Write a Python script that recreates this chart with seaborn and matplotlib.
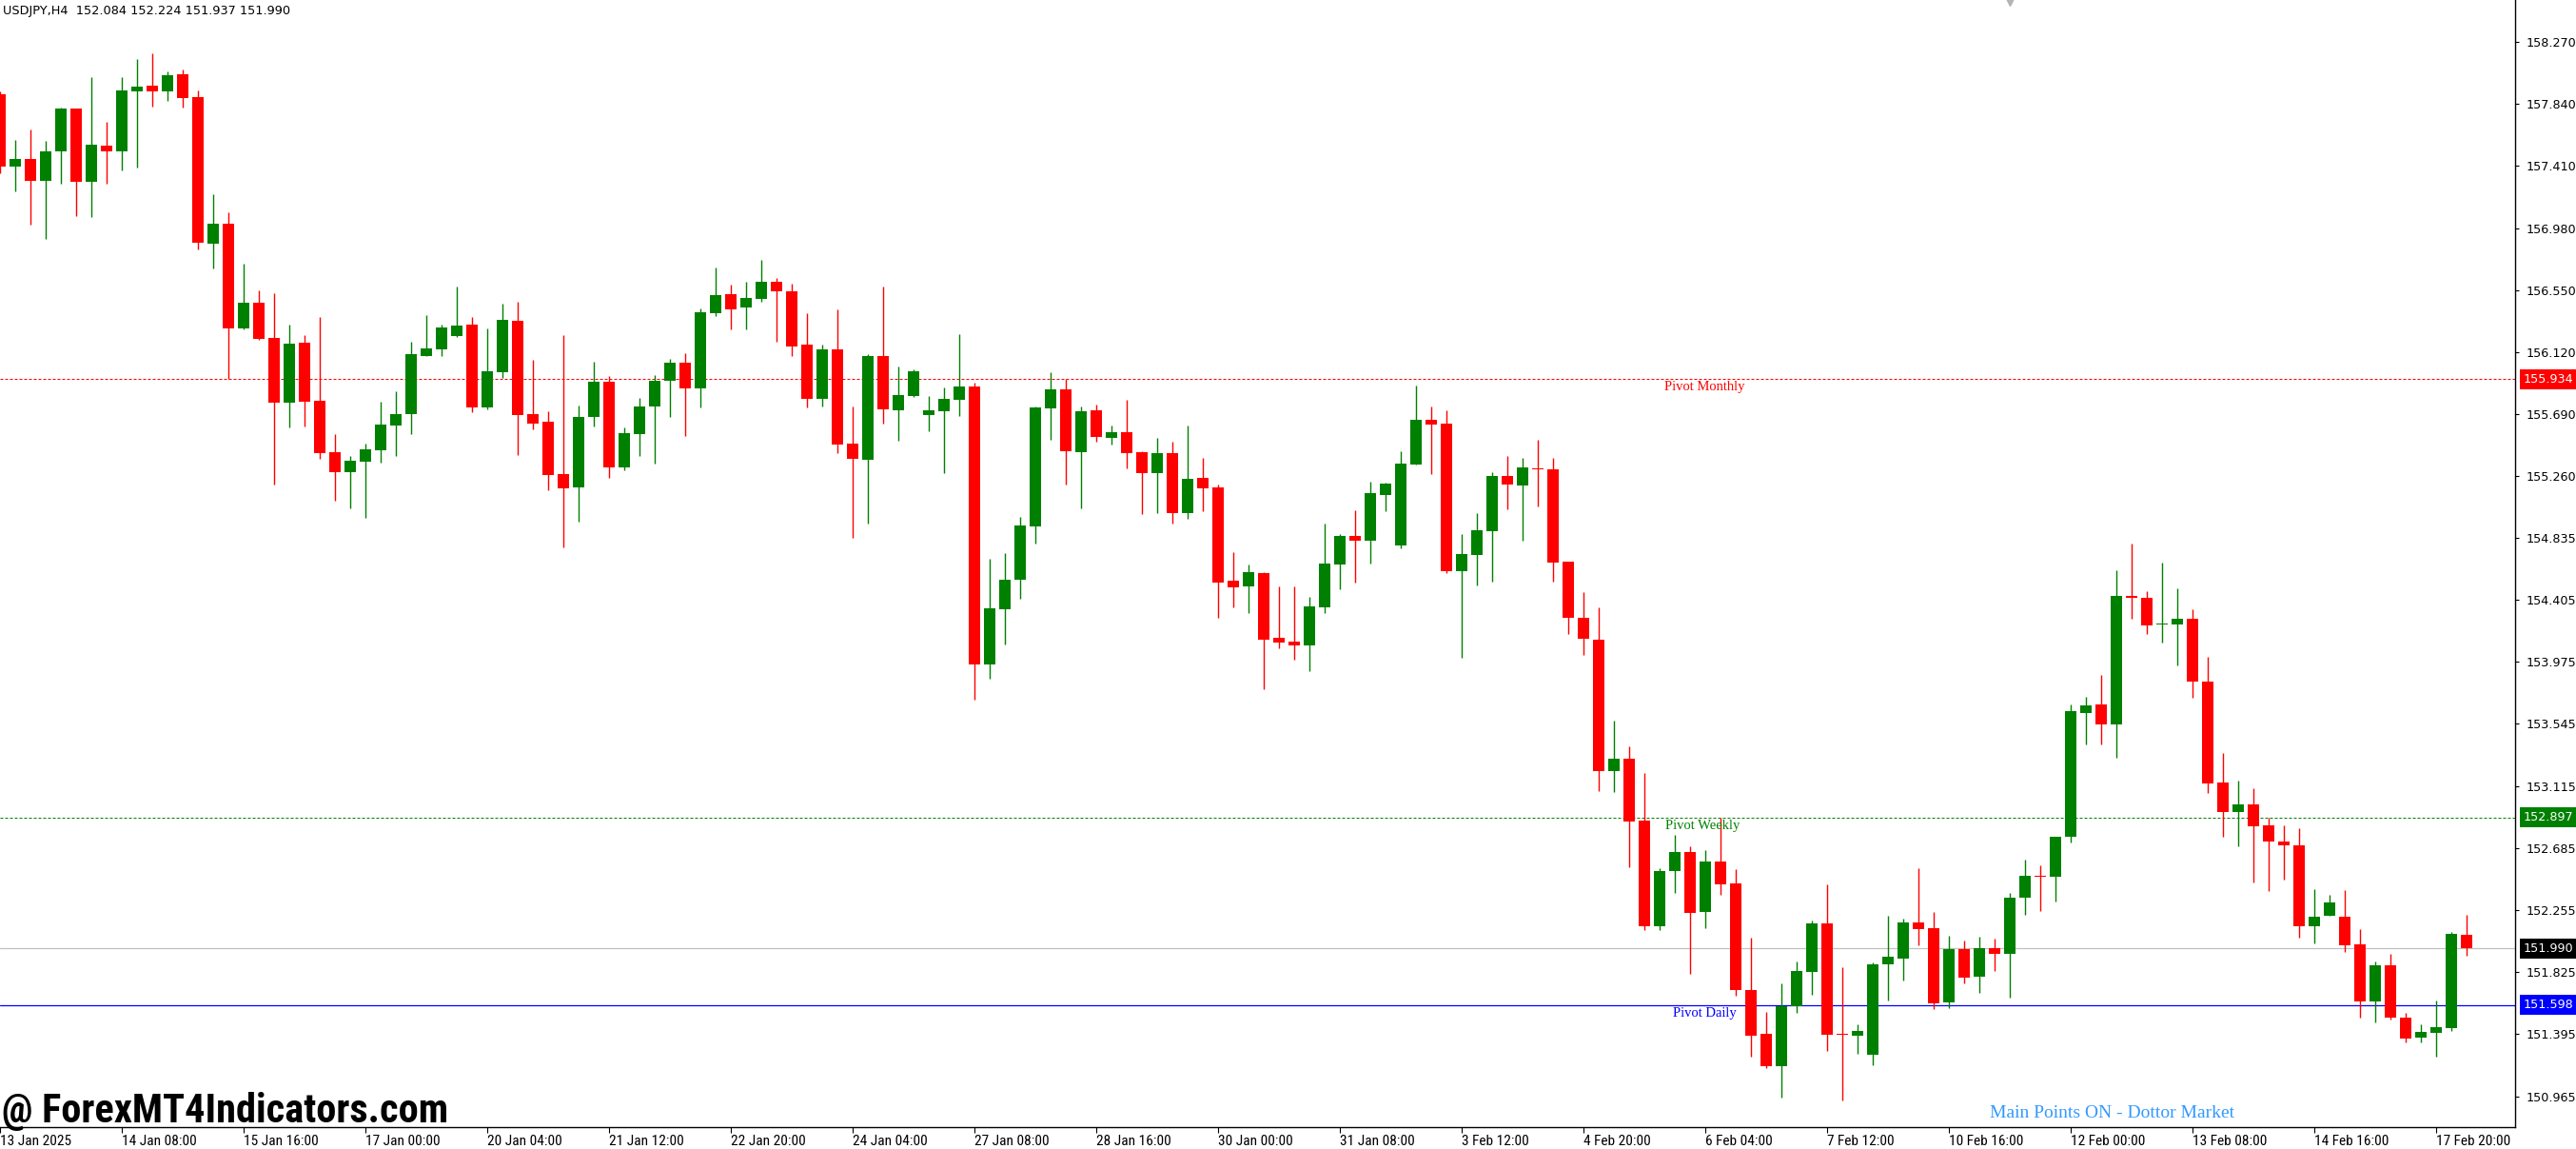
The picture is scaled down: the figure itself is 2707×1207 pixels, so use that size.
import matplotlib
matplotlib.use("Agg")
import matplotlib.pyplot as plt
import matplotlib.transforms as mtransforms
import numpy as np
import pandas as pd
import seaborn as sns

# USDJPY H4 candles, 13 Jan 2025 00:00 .. 18 Feb 2025 04:00
symbol = "USDJPY,H4"
opens = [157.908, 157.407, 157.460, 157.308, 157.513, 157.810, 157.302, 157.552, 157.513, 157.928,
         157.968, 157.928, 158.047, 157.889, 156.873, 157.011, 156.286, 156.464, 156.220, 155.771,
         156.187, 155.784, 155.428, 155.290, 155.362, 155.442, 155.613, 155.692, 156.095, 156.141,
         156.233, 156.312, 155.738, 155.982, 156.339, 155.692, 155.639, 155.277, 155.184, 155.672,
         155.916, 155.323, 155.554, 155.745, 155.923, 156.048, 155.870, 156.391, 156.521, 156.429,
         156.488, 156.607, 156.541, 156.171, 155.795, 156.138, 155.485, 155.373, 156.092, 155.716,
         155.815, 155.683, 155.710, 155.789, 155.881, 153.955, 154.338, 154.542, 154.912, 155.730,
         155.861, 155.426, 155.719, 155.527, 155.567, 155.428, 155.283, 155.422, 155.006, 155.250,
         155.184, 154.538, 154.498, 154.591, 154.142, 154.116, 154.089, 154.353, 154.650, 154.848,
         154.815, 155.131, 154.782, 155.343, 155.653, 155.626, 154.606, 154.718, 154.883, 155.262,
         155.197, 155.315, 155.308, 154.668, 154.280, 154.131, 153.217, 153.307, 152.878, 152.145,
         152.527, 152.655, 152.241, 152.589, 152.437, 151.701, 151.396, 151.175, 151.589, 151.829,
         152.162, 151.397, 151.386, 151.254, 151.880, 151.920, 152.172, 152.127, 151.617, 151.982,
         151.794, 151.990, 151.952, 152.339, 152.494, 152.489, 152.766, 153.619, 153.678, 153.541,
         154.429, 154.421, 154.231, 154.236, 154.272, 153.839, 153.141, 152.932, 152.990, 152.839,
         152.733, 152.706, 152.144, 152.215, 152.207, 152.016, 151.623, 151.872, 151.510, 151.374,
         151.407, 151.437, 152.084]
highs = [157.930, 157.592, 157.664, 157.585, 157.816, 157.810, 158.027, 157.717, 158.027, 158.153,
         158.192, 158.067, 158.080, 157.935, 157.216, 157.091, 156.734, 156.550, 156.530, 156.312,
         156.240, 156.365, 155.554, 155.402, 155.488, 155.778, 155.850, 156.193, 156.378, 156.312,
         156.576, 156.365, 156.286, 156.457, 156.470, 156.068, 155.712, 156.240, 155.751, 156.055,
         155.956, 155.600, 155.804, 155.963, 156.075, 156.114, 156.424, 156.708, 156.587, 156.607,
         156.762, 156.633, 156.594, 156.389, 156.171, 156.416, 155.743, 156.106, 156.574, 156.020,
         156.000, 155.815, 155.875, 156.244, 155.908, 154.687, 154.727, 154.978, 155.743, 155.980,
         155.934, 155.743, 155.758, 155.613, 155.791, 155.435, 155.527, 155.501, 155.613, 155.389,
         155.204, 154.736, 154.650, 154.597, 154.498, 154.498, 154.426, 154.934, 154.861, 155.026,
         155.224, 155.217, 155.435, 155.890, 155.745, 155.719, 154.858, 155.004, 155.287, 155.399,
         155.386, 155.514, 155.386, 154.668, 154.457, 154.354, 153.568, 153.391, 153.208, 152.546,
         152.773, 152.695, 152.673, 152.897, 152.540, 152.061, 151.548, 151.744, 151.896, 152.183,
         152.430, 151.861, 151.464, 151.891, 152.213, 152.194, 152.543, 152.245, 152.076, 152.041,
         152.068, 152.054, 152.376, 152.602, 152.562, 152.766, 153.678, 153.732, 153.882, 154.607,
         154.797, 154.462, 154.660, 154.483, 154.342, 154.010, 153.345, 153.149, 153.101, 152.894,
         152.844, 152.824, 152.399, 152.358, 152.391, 152.122, 151.898, 151.950, 151.543, 151.465,
         151.631, 152.101, 152.224]
lows = [157.360, 157.236, 157.005, 156.906, 157.288, 157.064, 157.058, 157.288, 157.381, 157.401,
        157.823, 157.862, 157.816, 156.833, 156.701, 155.934, 156.279, 156.207, 155.204, 155.600,
        155.606, 155.382, 155.092, 155.039, 154.973, 155.356, 155.402, 155.554, 156.095, 156.095,
        156.226, 155.705, 155.725, 155.943, 155.408, 155.587, 155.164, 154.769, 154.947, 155.606,
        155.250, 155.303, 155.402, 155.349, 155.672, 155.540, 155.738, 156.372, 156.277, 156.277,
        156.468, 156.191, 156.092, 155.736, 155.743, 155.419, 154.832, 154.931, 155.624, 155.505,
        155.809, 155.571, 155.281, 155.677, 153.711, 153.856, 154.094, 154.410, 154.793, 155.512,
        155.202, 155.037, 155.501, 155.481, 155.316, 155.000, 155.006, 154.934, 154.967, 155.019,
        154.281, 154.353, 154.314, 153.786, 154.069, 153.990, 153.911, 154.314, 154.478, 154.525,
        154.657, 155.019, 154.762, 155.343, 155.277, 154.591, 154.000, 154.504, 154.532, 155.035,
        154.817, 155.054, 154.528, 154.165, 154.022, 153.080, 153.071, 152.552, 152.114, 152.117,
        152.375, 151.816, 152.129, 152.363, 151.663, 151.238, 151.157, 150.958, 151.545, 151.670,
        151.281, 150.935, 151.257, 151.177, 151.630, 151.770, 152.011, 151.571, 151.577, 151.748,
        151.684, 151.834, 151.646, 152.223, 152.247, 152.317, 152.720, 153.404, 153.404, 153.310,
        154.271, 154.166, 154.110, 153.947, 153.728, 153.068, 152.766, 152.696, 152.446, 152.386,
        152.467, 152.064, 152.026, 152.215, 151.963, 151.510, 151.477, 151.497, 151.339, 151.339,
        151.240, 151.417, 151.937]
closes = [157.407, 157.460, 157.308, 157.513, 157.810, 157.302, 157.559, 157.513, 157.935, 157.961,
          157.928, 158.040, 157.882, 156.879, 157.011, 156.286, 156.464, 156.213, 155.771, 156.180,
          155.778, 155.422, 155.290, 155.369, 155.448, 155.620, 155.692, 156.108, 156.147, 156.292,
          156.306, 155.738, 155.989, 156.345, 155.686, 155.626, 155.270, 155.178, 155.672, 155.916,
          155.323, 155.560, 155.745, 155.923, 156.048, 155.870, 156.398, 156.517, 156.416, 156.495,
          156.607, 156.541, 156.158, 155.795, 156.138, 155.479, 155.380, 156.092, 155.723, 155.822,
          155.987, 155.716, 155.795, 155.881, 153.955, 154.344, 154.542, 154.918, 155.736, 155.861,
          155.433, 155.710, 155.534, 155.567, 155.422, 155.283, 155.422, 155.006, 155.244, 155.178,
          154.525, 154.492, 154.597, 154.129, 154.109, 154.089, 154.360, 154.657, 154.848, 154.815,
          155.145, 155.211, 155.349, 155.653, 155.620, 154.604, 154.721, 154.886, 155.262, 155.206,
          155.321, 155.308, 154.662, 154.283, 154.134, 153.217, 153.307, 152.869, 152.145, 152.524,
          152.655, 152.235, 152.589, 152.434, 151.698, 151.387, 151.175, 151.589, 151.831, 152.162,
          151.394, 151.389, 151.418, 151.877, 151.931, 152.172, 152.124, 151.611, 151.982, 151.789,
          151.990, 151.952, 152.339, 152.494, 152.486, 152.766, 153.632, 153.673, 153.541, 154.429,
          154.419, 154.228, 154.236, 154.272, 153.839, 153.129, 152.932, 152.990, 152.834, 152.728,
          152.703, 152.144, 152.212, 152.305, 152.011, 151.623, 151.872, 151.510, 151.366, 151.409,
          151.444, 152.089, 151.990]

date_labels = ["13 Jan 2025", "14 Jan 08:00", "15 Jan 16:00", "17 Jan 00:00", "20 Jan 04:00",
               "21 Jan 12:00", "22 Jan 20:00", "24 Jan 04:00", "27 Jan 08:00", "28 Jan 16:00",
               "30 Jan 00:00", "31 Jan 08:00", "3 Feb 12:00", "4 Feb 20:00", "6 Feb 04:00",
               "7 Feb 12:00", "10 Feb 16:00", "12 Feb 00:00", "13 Feb 08:00", "14 Feb 16:00",
               "17 Feb 20:00"]
price_ticks = [158.270, 157.840, 157.410, 156.980, 156.550, 156.120, 155.690, 155.260, 154.835,
               154.405, 153.975, 153.545, 153.115, 152.685, 152.255, 151.825, 151.395, 150.965]

pivot_monthly = 155.934
pivot_weekly = 152.897
pivot_daily = 151.598
last_price = 151.990

UP = "#008000"
DOWN = "#ff0000"

df = pd.DataFrame({"open": opens, "high": highs, "low": lows, "close": closes})
df["bar"] = np.arange(len(df))
df["color"] = np.where(df["close"] >= df["open"], UP, DOWN)
df["body_lo"] = df[["open", "close"]].min(axis=1)
df["body_h"] = (df["open"] - df["close"]).abs().clip(lower=0.009)

sns.set_theme(style="white")
plt.rcParams["font.family"] = ["DejaVu Sans"]

W, H = 2707, 1207
fig = plt.figure(figsize=(W / 100, H / 100), dpi=100)
ax = fig.add_axes([0, 23 / H, 2643 / W, 1184 / H])
renderer = fig.canvas.get_renderer()


def fit_size(text, target_px, base=20, **kw):
    # font size that makes `text` target_px wide
    t = fig.text(0, 0, text, fontsize=base, **kw)
    w = t.get_window_extent(renderer=renderer).width
    t.remove()
    return base * target_px / w


narrow = ["Roboto Condensed", "Roboto", "DejaVu Sans"]

# wicks + bodies
ax.vlines(df["bar"], df["low"], df["high"], colors=df["color"], linewidth=1.0, zorder=3)
ax.bar(df["bar"], df["body_h"], bottom=df["body_lo"], width=0.69, color=df["color"],
       linewidth=0, zorder=4)

ax.set_xlim(0, 2643 / 16)
ax.set_ylim(150.751, 158.561)

# pivot / price levels
ax.axhline(pivot_monthly, color="#ff0000", lw=0.72, ls=(0, (3, 2)), zorder=2)
ax.axhline(pivot_weekly, color="#008000", lw=0.72, ls=(0, (3, 2)), zorder=2)
ax.axhline(pivot_daily, color="#0000ff", lw=0.9, zorder=2)
ax.axhline(last_price, color="#c0c0c0", lw=0.9, zorder=1)

serif = ["Liberation Serif", "DejaVu Serif"]
for txt, lvl, col, xb in [("Pivot Monthly", pivot_monthly, "#ff0000", 109.3),
                          ("Pivot Weekly", pivot_weekly, "#008000", 109.4),
                          ("Pivot Daily", pivot_daily, "#0000ff", 109.9)]:
    ax.annotate(txt, xy=(xb, lvl), xytext=(0, -8.5), textcoords="offset pixels",
                ha="left", va="center", color=col, fontsize=10.5, family=serif)

# price boxes on the right scale
trans = mtransforms.blended_transform_factory(ax.transAxes, ax.transData)
for lvl, col in [(pivot_monthly, "#ff0000"), (pivot_weekly, "#008000"),
                 (pivot_daily, "#0000ff"), (last_price, "#000000")]:
    ax.annotate(f"{lvl:.3f}", xy=(1, lvl), xycoords=trans, xytext=(9, 0),
                textcoords="offset pixels", ha="left", va="center", color="white",
                fontsize=9.2, zorder=10, annotation_clip=False,
                bbox=dict(boxstyle="square,pad=0.3", fc=col, ec="none"))

# axes styling
for s in ["left", "top"]:
    ax.spines[s].set_visible(False)
for s in ["right", "bottom"]:
    ax.spines[s].set_color("black")
    ax.spines[s].set_linewidth(1.0)
ax.grid(False)

ax.yaxis.tick_right()
ax.set_yticks(price_ticks)
ax.set_yticklabels([f"{v:.3f}" for v in price_ticks])
ax.tick_params(axis="y", right=True, left=False, direction="out", length=3, width=0.8,
               pad=5, labelsize=9.2, colors="black")

date_size = fit_size(date_labels[0], 75, family=narrow, fontstretch="condensed")
ax.set_xticks(np.arange(len(date_labels)) * 8)
ax.set_xticklabels(date_labels)
ax.tick_params(axis="x", bottom=True, direction="out", length=4, width=0.8, pad=1.5,
               labelsize=date_size, colors="black")
for lbl in ax.get_xticklabels():
    lbl.set_ha("left")
    lbl.set_family(narrow)
    lbl.set_fontstretch("condensed")

# chart shift marker at top
ax.plot([132], [1.0], marker="v", ms=8, color="#b4b4b4",
        transform=mtransforms.blended_transform_factory(ax.transData, ax.transAxes), clip_on=False)

fig.text(3 / W, 1 - 11 / H, f"{symbol}  {opens[-1]:.3f} {highs[-1]:.3f} {lows[-1]:.3f} {closes[-1]:.3f}",
         ha="left", va="center", fontsize=9.3, color="black")

wm = "@ ForexMT4Indicators.com"
wm_size = fit_size(wm, 468, fontweight="bold", family=narrow, fontstretch="condensed")
fig.text(2 / W, 1 - 1167 / H, wm, ha="left", va="center", fontsize=wm_size,
         fontweight="bold", color="black", family=narrow, fontstretch="condensed")
fig.text(2091 / W, 1 - 1170 / H, "Main Points ON - Dottor Market", ha="left", va="center",
         fontsize=14, color="#3399ff", family=serif)

fig.savefig("out.png", dpi=100)
